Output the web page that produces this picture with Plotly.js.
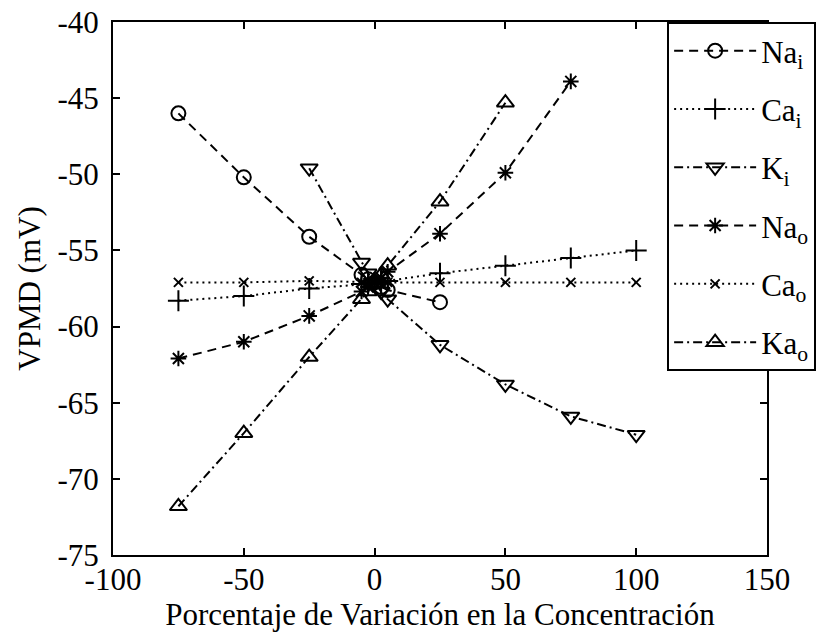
<!DOCTYPE html>
<html>
<head>
<meta charset="utf-8">
<script src="https://cdn.plot.ly/plotly-3.0.1.min.js"></script>
<style>html,body{margin:0;padding:0;background:#fff;}#chart{width:827px;height:641px;}</style>
</head>
<body>
<div id="chart"></div>
<script>
// ---- data ----
const seriesNames = ["Na<sub>i</sub>", "Ca<sub>i</sub>", "K<sub>i</sub>", "Na<sub>o</sub>", "Ca<sub>o</sub>", "Ka<sub>o</sub>"];

const xNai = [-75, -50, -25, -5, -2.5, 0, 2.5, 5, 25];
const yNai = [-46.0, -50.2, -54.1, -56.6, -56.9, -57.1, -57.4, -57.6, -58.4];

const xCai = [-75, -50, -25, -5, -2.5, 0, 2.5, 5, 25, 50, 75, 100];
const yCai = [-58.3, -58.0, -57.5, -57.2, -57.2, -57.1, -57.1, -57.0, -56.5, -56.0, -55.5, -55.0];

const xKi = [-25, -5, -2.5, 0, 2.5, 5, 25, 50, 75, 100];
const yKi = [-49.6, -55.8, -56.5, -57.1, -57.7, -58.2, -61.2, -63.8, -65.9, -67.1];

const xNao = [-75, -50, -25, -5, -2.5, 0, 2.5, 5, 25, 50, 75];
const yNao = [-62.1, -61.0, -59.3, -57.7, -57.4, -57.1, -56.8, -56.4, -53.9, -49.9, -43.9];

const xCao = [-75, -50, -25, -5, -2.5, 0, 2.5, 5, 25, 50, 75, 100];
const yCao = [-57.1, -57.1, -57.0, -57.1, -57.1, -57.1, -57.1, -57.1, -57.1, -57.1, -57.1, -57.1];

const xKao = [-75, -50, -25, -5, -2.5, 0, 2.5, 5, 25, 50];
const yKao = [-71.8, -67.0, -62.0, -58.2, -57.7, -57.1, -56.6, -56.0, -51.8, -45.3];

const xTickVals = [-100, -50, 0, 50, 100, 150];
const xTickText = ["-100", "-50", "0", "50", "100", "150"];
const yTickVals = [-75, -70, -65, -60, -55, -50, -45, -40];
const yTickText = ["-75", "-70", "-65", "-60", "-55", "-50", "-45", "-40"];

const xTitle = "Porcentaje de Variación en la Concentración";
const yTitle = "VPMD (mV)";

// ---- styling ----
const FONT = '"Liberation Serif", "Times New Roman", serif';
const DASH = "9px,6px";
const DOT = "2px,4px";
const DASHDOT = "9px,4px,2px,4px";

function tr(name, x, y, dash, symbol, size, group) {
  return {
    type: "scatter", mode: "lines+markers", name: name, x: x, y: y,
    legendgroup: group,
    line: {color: "black", width: 2, dash: dash},
    marker: {symbol: symbol, size: size, color: "black", line: {color: "black", width: 2}}
  };
}

const data = [
  tr(seriesNames[0], xNai, yNai, DASH, "circle-open", 14, "g1"),
  tr(seriesNames[1], xCai, yCai, DOT, "cross-thin-open", 15, "g2"),
  tr(seriesNames[2], xKi, yKi, DASHDOT, "triangle-down-open", 15, "g3"),
  tr(seriesNames[3], xNao, yNao, DASH, "asterisk-open", 13, "g4"),
  tr(seriesNames[4], xCao, yCao, DOT, "x-thin-open", 9, "g5"),
  tr(seriesNames[5], xKao, yKao, DASHDOT, "triangle-up-open", 15, "g6")
];

const axisCommon = {
  showgrid: false, zeroline: false, showline: true, linecolor: "black", linewidth: 2,
  mirror: "ticks", ticks: "inside", ticklen: 7, tickwidth: 2, tickcolor: "black",
  tickfont: {family: FONT, size: 31, color: "black"}
};

const layout = {
  width: 827, height: 641,
  paper_bgcolor: "white", plot_bgcolor: "white",
  margin: {l: 113, r: 59, t: 22, b: 86},
  font: {family: FONT, size: 31, color: "black"},
  xaxis: Object.assign({}, axisCommon, {
    range: [-100, 150], tickmode: "array", tickvals: xTickVals, ticktext: xTickText,
    ticklabelstandoff: -4,
    title: {text: xTitle, font: {family: FONT, size: 31, color: "black"}, standoff: 4}
  }),
  yaxis: Object.assign({}, axisCommon, {
    range: [-75, -40], tickmode: "array", tickvals: yTickVals, ticktext: yTickText,
    ticklabelstandoff: 6,
    title: {text: yTitle, font: {family: FONT, size: 31, color: "black"}, standoff: 8}
  }),
  showlegend: true,
  legend: {
    x: 0.846, y: 1, xanchor: "left", yanchor: "top",
    bgcolor: "white", bordercolor: "black", borderwidth: 2,
    font: {family: FONT, size: 31, color: "black"},
    itemwidth: 82, tracegroupgap: 15, traceorder: "grouped"
  }
};

Plotly.newPlot("chart", data, layout, {displayModeBar: false, staticPlot: true});
</script>
</body>
</html>
